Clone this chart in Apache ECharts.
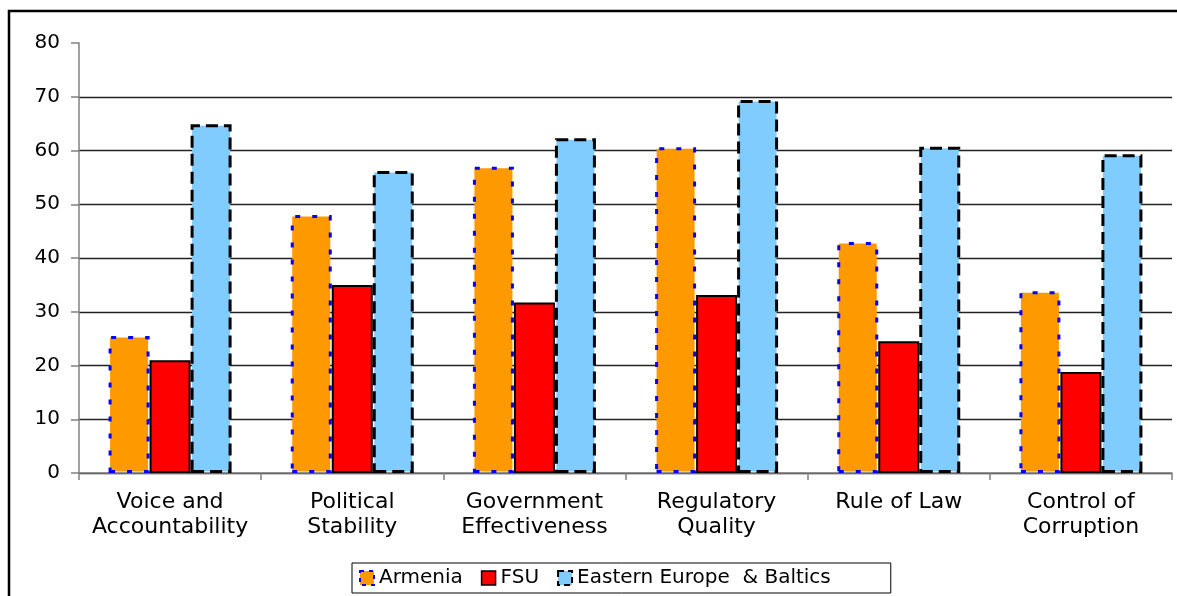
<!DOCTYPE html>
<html>
<head>
<meta charset="utf-8">
<script src="https://cdn.jsdelivr.net/npm/echarts@6/dist/echarts.min.js"></script>
<style>
  html, body { margin: 0; padding: 0; background: #fff; }
  #chart { width: 1177px; height: 596px; }
</style>
</head>
<body>
<div id="chart"></div>
<script>
// Governance indicators, percentile rank (0-100)
const categories = [
  'Voice and\nAccountability',
  'Political\nStability',
  'Government\nEffectiveness',
  'Regulatory\nQuality',
  'Rule of Law',
  'Control of\nCorruption'
];
const armenia = [25.5, 48.0, 57.0, 60.6, 43.0, 33.8];
const fsu = [21.0, 35.0, 31.7, 33.1, 24.5, 18.8];
const easternEurope = [64.9, 56.2, 62.3, 69.4, 60.7, 59.3];
const seriesNames = ['Armenia', 'FSU', 'Eastern Europe  & Baltics'];

const FONT = 'DejaVu Sans';

const styles = [
  { color: '#FF9900', borderColor: '#0000FF', borderWidth: 3, borderType: [5, 12] },
  { color: '#FF0000', borderColor: '#000000', borderWidth: 2, borderType: 'solid' },
  { color: '#80CCFF', borderColor: '#000000', borderWidth: 3, borderType: [12, 6] }
];
const legendStyles = [
  { color: '#FF9900', borderColor: '#0000FF', borderWidth: 2, borderType: [4, 5] },
  { color: '#FF0000', borderColor: '#000000', borderWidth: 1.5, borderType: 'solid' },
  { color: '#80CCFF', borderColor: '#000000', borderWidth: 2, borderType: [6, 4] }
];
const values = [armenia, fsu, easternEurope];

// grid lines for 0..70; no line at the top value
const gridColors = ['#222', '#222', '#222', '#222', '#222', '#222', '#222', '#222', 'rgba(0,0,0,0)'];

const chart = echarts.init(document.getElementById('chart'), null, { renderer: 'canvas' });
chart.setOption({
  animation: false,
  backgroundColor: '#fff',
  textStyle: { fontFamily: FONT },
  grid: { left: 79, right: 5, top: 43, bottom: 123, containLabel: false },
  // outer chart frame: only its left and top edges fall inside the page
  graphic: [{
    type: 'polyline',
    shape: { points: [[9, 600], [9, 11], [1180, 11]] },
    style: { fill: 'none', stroke: '#000', lineWidth: 2.5 },
    silent: true,
    z: 100
  }],
  legend: {
    left: 352,
    top: 563,
    padding: [5, 60, 5, 7],
    itemGap: 18,
    itemWidth: 14,
    itemHeight: 14,
    borderColor: '#000',
    borderWidth: 1,
    icon: 'rect',
    textStyle: { fontFamily: FONT, fontSize: 20, color: '#000' },
    data: seriesNames.map((n, i) => ({ name: n, itemStyle: legendStyles[i] }))
  },
  xAxis: {
    type: 'category',
    data: categories,
    axisLine: { lineStyle: { color: '#808080', width: 1.5 } },
    axisTick: { show: true, length: 7, interval: 0, lineStyle: { color: '#808080', width: 1.5 } },
    axisLabel: {
      interval: 0,
      margin: 17,
      fontFamily: FONT,
      fontSize: 22,
      lineHeight: 25,
      color: '#000'
    }
  },
  yAxis: {
    type: 'value',
    min: 0,
    max: 80,
    interval: 10,
    axisLine: { show: true, lineStyle: { color: '#808080', width: 1.5 } },
    axisTick: { show: true, length: 8, lineStyle: { color: '#808080', width: 1.5 } },
    axisLabel: { margin: 19, fontFamily: FONT, fontSize: 20, color: '#000' },
    splitLine: { show: true, lineStyle: { color: gridColors, width: 1.3 } }
  },
  series: seriesNames.map((n, i) => ({
    name: n,
    type: 'bar',
    data: values[i],
    barWidth: 41,
    barGap: '0%',
    itemStyle: styles[i]
  }))
});
</script>
</body>
</html>
